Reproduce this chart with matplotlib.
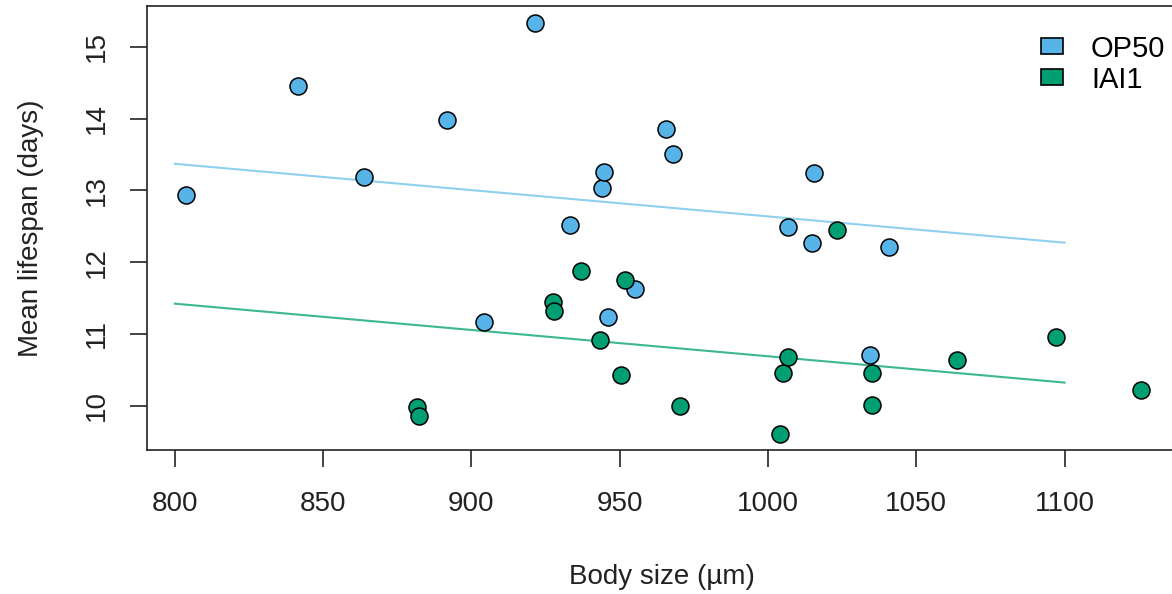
#!/usr/bin/env python3
"""Mean lifespan vs body size, OP50 vs IAI1 (R base-graphics look)."""

import matplotlib

matplotlib.use("Agg")
import matplotlib.pyplot as plt
from matplotlib.patches import Patch

plt.rcParams["font.family"] = ["Liberation Sans", "DejaVu Sans"]

# --------------------------------------------------------------------------- #
# データ
# --------------------------------------------------------------------------- #
op50_size = [803.9, 841.6, 863.9, 891.7, 904.1, 921.3, 933.1, 944.1, 944.7,
             946.1, 955.3, 965.7, 967.9, 1006.6, 1014.7, 1015.4, 1034.3, 1040.7]
op50_life = [12.93, 14.46, 13.18, 13.98, 11.17, 15.33, 12.52, 13.03, 13.26,
             11.24, 11.63, 13.85, 13.50, 12.49, 12.26, 13.24, 10.70, 12.21]

iai1_size = [881.7, 882.4, 927.5, 927.9, 936.8, 943.5, 950.3, 951.7, 970.2,
             1004.1, 1004.9, 1006.7, 1023.4, 1035.1, 1035.1, 1063.6, 1097.0, 1125.7]
iai1_life = [9.98, 9.86, 11.44, 11.32, 11.88, 10.92, 10.42, 11.75, 9.99,
             9.61, 10.45, 10.68, 12.45, 10.45, 10.01, 10.63, 10.96, 10.22]

fit_x = [800, 1100]
op50_fit = [13.37, 12.27]
iai1_fit = [11.42, 10.32]

x_ticks = [800, 850, 900, 950, 1000, 1050, 1100]
y_ticks = [10, 11, 12, 13, 14, 15]

COLOR_OP50 = "#56B4E9"
COLOR_IAI1 = "#009E73"
LINE_OP50 = "#8FD0EE"
LINE_IAI1 = "#3DB792"
COLOR_TEXT = "#222222"

fig = plt.figure(figsize=(11.72, 5.94), dpi=100, facecolor="white")
ax = fig.add_axes([147 / 1172, 144 / 594, 1030 / 1172, 444 / 594])

ax.plot(fit_x, op50_fit, color=LINE_OP50, lw=1.5, zorder=2)
ax.plot(fit_x, iai1_fit, color=LINE_IAI1, lw=1.5, zorder=2)

ax.scatter(op50_size, op50_life, s=150, color=COLOR_OP50,
           edgecolor="black", linewidth=1.1, zorder=3)
ax.scatter(iai1_size, iai1_life, s=150, color=COLOR_IAI1,
           edgecolor="black", linewidth=1.1, zorder=3)

ax.set_xlim(790.6, 1137.9)
ax.set_ylim(9.38, 15.57)
ax.set_xticks(x_ticks)
ax.set_yticks(y_ticks)

for sp in ax.spines.values():
    sp.set_linewidth(1.2)
    sp.set_color(COLOR_TEXT)

ax.tick_params(axis="both", direction="out", length=12.5, width=1.2,
               labelsize=20, colors=COLOR_TEXT)
ax.tick_params(axis="x", pad=17)
ax.tick_params(axis="y", pad=14, labelrotation=90)
for lab in ax.get_yticklabels():
    lab.set_va("center")

ax.set_xlabel("Body size (µm)", fontsize=20, labelpad=34, color=COLOR_TEXT)
ax.set_ylabel("Mean lifespan (days)", fontsize=20, labelpad=29, color=COLOR_TEXT)

handles = [
    Patch(facecolor=COLOR_OP50, edgecolor="black", linewidth=1.2, label="OP50"),
    Patch(facecolor=COLOR_IAI1, edgecolor="black", linewidth=1.2, label="IAI1"),
]
fig.legend(handles=handles, loc="upper right",
           bbox_to_anchor=(1180 / 1172, 1 - 20 / 594),
           frameon=False, fontsize=21, handlelength=0.75, handleheight=0.48,
           handletextpad=0.95, labelspacing=0.1, borderpad=0)

fig.savefig("out.png", dpi=100, facecolor="white")
